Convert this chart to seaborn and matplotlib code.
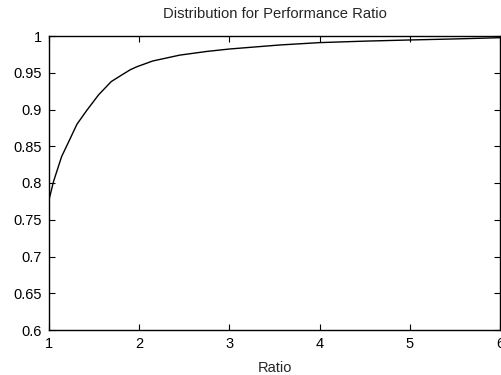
import numpy as np
import pandas as pd
import seaborn as sns
import matplotlib
matplotlib.use('Agg')
import matplotlib.pyplot as plt

# curve
ratio = [1.0, 1.05, 1.14, 1.21, 1.31, 1.42, 1.55, 1.69, 1.82, 1.90, 1.97,
         2.15, 2.45, 2.75, 3.0, 3.56, 4.0, 4.5, 5.0, 5.5, 6.0]
share = [0.777, 0.802, 0.836, 0.854, 0.880, 0.899, 0.920, 0.938, 0.948, 0.954, 0.958,
         0.966, 0.974, 0.979, 0.9823, 0.9878, 0.991, 0.993, 0.9946, 0.996, 0.9977]

xticks = [1, 2, 3, 4, 5, 6]
yticks = [0.6, 0.65, 0.7, 0.75, 0.8, 0.85, 0.9, 0.95, 1.0]
ytick_labels = ['0.6', '0.65', '0.7', '0.75', '0.8', '0.85', '0.9', '0.95', '1']

df = pd.DataFrame({'Ratio': ratio, 'Share': share})

sns.set_style('white')
plt.rcParams['font.family'] = ['Liberation Sans', 'DejaVu Sans']

fig = plt.figure(figsize=[5.02, 3.75], dpi=100)
ax = fig.add_axes([49 / 502, 45 / 375, 451 / 502, 294 / 375])

sns.lineplot(x='Ratio', y='Share', data=df, ax=ax, color='black', linewidth=1.0)

ax.set_xlim(1, 6)
ax.set_ylim(0.6, 1.0)
ax.set_xticks(xticks)
ax.set_xticklabels([str(t) for t in xticks])
ax.set_yticks(yticks)
ax.set_yticklabels(ytick_labels)
ax.tick_params(direction='in', length=4, width=0.8, top=True, right=True,
               bottom=True, left=True, labelsize=10.5, colors='black', pad=5)
for s in ax.spines.values():
    s.set_color('black')
    s.set_linewidth(1.0)

ax.set_title('Distribution for Performance Ratio', fontsize=10.6, pad=13)
ax.set_xlabel('Ratio', fontsize=10.5, labelpad=7)
ax.set_ylabel('')

plt.savefig('out.png', dpi=100)
